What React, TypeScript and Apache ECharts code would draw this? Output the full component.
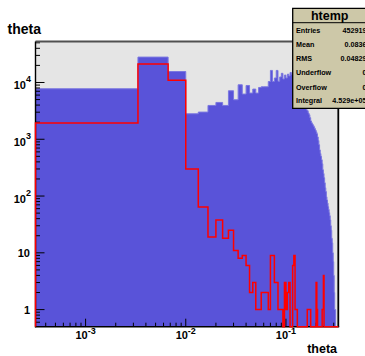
import React, { useEffect, useRef } from 'react';
import * as echarts from 'echarts';

// ---- data ----
const BIN_LOW = 0;
const BIN_HIGH = 1 / 3;
const blueCounts = [
  7750, 28000, 15600, 2810, 3010, 3940, 4450, 3940, 7140, 4960,
  9110, 6250, 8850, 6500, 7650, 6500, 8170, 8400, 8400, 8400,
  10400, 16300, 10400, 12000, 16300, 10500, 12500, 14500, 11500, 13500,
  12000, 14000, 13000, 15000, 14000, 14500, 12000, 13000, 11000, 10500,
  9000, 8500, 7000, 6000, 5200, 4500, 4000, 3540, 3300, 3180,
  2900, 2700, 2400, 2100, 1950, 1850, 1750, 1660, 1550, 1450,
  1350, 1250, 1100, 950, 800, 650, 560, 500, 436, 370,
  290, 250, 210, 171, 140, 120, 97, 85, 75, 65,
  58, 51, 45, 38, 30, 25, 18, 15, 10, 7,
  4, 2, 1, 1, 0, 0, 0, 0, 0, 0,
];
const redCounts = [
  1930, 21100, 11000, 300, 64, 19, 38, 18, 25, 11,
  8, 9, 6, 2, 3, 1, 1, 2, 2, 2,
  1, 9, 9, 3, 3, 1, 1, 1, 0, 3,
  1, 2, 3, 0, 0, 6, 9, 1, 1, 0,
  0, 0, 0, 0, 0, 0, 0, 0, 0, 1,
  1, 1, 1, 0, 0, 0, 0, 0, 0, 0,
  3, 1, 0, 0, 0, 0, 0, 0, 0, 1,
  1, 4, 0, 0, 0, 0, 0, 0, 0, 0,
  0, 0, 0, 0, 0, 0, 0, 0, 0, 0,
  0, 0, 0, 0, 0, 0, 0, 0, 0, 0,
];
const xMajorTicks = [0.001, 0.01, 0.1];
const xTickLabels = [['10', '-3'], ['10', '-2'], ['10', '-1']];
const yMajorTicks = [1, 10, 100, 1000, 10000];
const yTickLabels = [['1', ''], ['10', ''], ['10', '2'], ['10', '3'], ['10', '4']];
const statNames = ['Entries', 'Mean', 'RMS', 'Underflow', 'Overflow', 'Integral'];
const statValues = ['452919', '0.0836', '0.04829', '0', '0', '4.529e+05'];
const histName = 'htemp';
const titleText = 'theta';
const xTitle = 'theta';

// ---- axis ranges ----
const X_MIN = Math.pow(10, -3.5);
const X_MAX = 0.3333;
const Y_MIN = 0.5;
const Y_MAX = 52700;

const xMinorTicks: number[] = [];
[0.0001, 0.001, 0.01, 0.1].forEach((d) => {
  for (let m = 2; m <= 9; m++) {
    const v = d * m;
    if (v > X_MIN && v < X_MAX) xMinorTicks.push(v);
  }
});
const yMinorTicks: number[] = [];
[0.1, 1, 10, 100, 1000, 10000].forEach((d) => {
  for (let m = 2; m <= 9; m++) {
    const v = d * m;
    if (v > Y_MIN && v < Y_MAX) yMinorTicks.push(v);
  }
});

// ---- layout ----
const W = 365;
const H = 356;
const G_LEFT = 35.5;
const G_TOP = 41.5;
const G_RIGHT = 338.3;
const G_BOTTOM = 326.7;
const FONT_FAMILY = '"Liberation Sans", Arial, Helvetica, sans-serif';
const BASE_FONT = `bold 11px ${FONT_FAMILY}`;
const EXP_FONT = `bold 9px ${FONT_FAMILY}`;
const STAT_FONT = `bold 7.2px ${FONT_FAMILY}`;
const BLUE = '#5953d9';
const BLUE_EDGE = '#7b77e0';
const RED = '#ff0000';

let ctx: CanvasRenderingContext2D | null = null;
function textWidth(t: string, font: string): number {
  if (!ctx) ctx = document.createElement('canvas').getContext('2d');
  if (!ctx) return t.length * 6;
  ctx.font = font;
  return ctx.measureText(t).width;
}

function binEdge(i: number): number {
  return BIN_LOW + ((BIN_HIGH - BIN_LOW) * i) / blueCounts.length;
}

function stepPoints(counts: number[], api: any): number[][] {
  const pts: number[][] = [];
  const n = counts.length;
  pts.push(api.coord([Math.max(binEdge(0), X_MIN), Y_MIN]));
  for (let i = 0; i < n; i++) {
    const x0 = Math.max(binEdge(i), X_MIN);
    const x1 = binEdge(i + 1);
    const y = Math.max(counts[i], Y_MIN);
    pts.push(api.coord([x0, y]));
    pts.push(api.coord([x1, y]));
  }
  pts.push(api.coord([binEdge(n), Y_MIN]));
  return pts;
}

export default function App() {
  const ref = useRef<HTMLDivElement>(null);
  useEffect(() => {
    if (!ref.current) return;
    const chart = echarts.init(ref.current, undefined, { renderer: 'svg' });

    const statRowY = [30, 44.3, 58.3, 72.3, 87, 100.3];
    const statEls: any[] = [
      {
        type: 'rect',
        z: 100,
        shape: { x: 292.7, y: 8.3, width: 90, height: 100 },
        style: { fill: '#cdc8a8', stroke: '#000', lineWidth: 1.3 },
      },
      {
        type: 'line',
        z: 101,
        shape: { x1: 292.7, y1: 22.7, x2: 370, y2: 22.7 },
        style: { stroke: '#000', lineWidth: 1 },
      },
      {
        type: 'text',
        z: 101,
        x: 329.7,
        y: 15.5,
        style: { text: histName, font: `bold 12.5px ${FONT_FAMILY}`, fill: '#000', align: 'center', verticalAlign: 'middle' },
      },
    ];
    statNames.forEach((name, i) => {
      statEls.push({
        type: 'text',
        z: 101,
        x: 296,
        y: statRowY[i],
        style: { text: name, font: STAT_FONT, fill: '#000', align: 'left', verticalAlign: 'middle' },
      });
      statEls.push({
        type: 'text',
        z: 101,
        x: 366.5,
        y: statRowY[i],
        style: { text: statValues[i], font: STAT_FONT, fill: '#000', align: 'right', verticalAlign: 'middle' },
      });
    });

    const option: any = {
      animation: false,
      backgroundColor: '#ffffff',
      grid: {
        left: G_LEFT,
        top: G_TOP,
        right: W - G_RIGHT,
        bottom: H - G_BOTTOM,
        show: true,
        backgroundColor: '#e5e5e5',
        borderWidth: 0,
        containLabel: false,
      },
      xAxis: {
        type: 'log',
        logBase: 10,
        min: X_MIN,
        max: X_MAX,
        axisLine: { show: false },
        axisTick: { show: false },
        axisLabel: { show: false },
        splitLine: { show: false },
      },
      yAxis: {
        type: 'log',
        logBase: 10,
        min: Y_MIN,
        max: Y_MAX,
        axisLine: { show: false },
        axisTick: { show: false },
        axisLabel: { show: false },
        splitLine: { show: false },
      },
      series: [
        {
          type: 'custom',
          name: 'blue',
          z: 2,
          clip: true,
          data: [[0.01, 1]],
          renderItem: (params: any, api: any) => ({
            type: 'polygon',
            shape: { points: stepPoints(blueCounts, api) },
            style: { fill: BLUE, stroke: BLUE_EDGE, lineWidth: 1 },
          }),
        },
        {
          type: 'custom',
          name: 'red',
          z: 6,
          clip: false,
          data: [[0.01, 1]],
          renderItem: (params: any, api: any) => ({
            type: 'polyline',
            shape: { points: stepPoints(redCounts, api) },
            style: { fill: 'none', stroke: RED, lineWidth: 1.5 },
          }),
        },
        {
          type: 'custom',
          name: 'yticks',
          z: 4,
          data: yMajorTicks.map((v) => [X_MIN, v, 1]).concat(yMinorTicks.map((v) => [X_MIN, v, 0])),
          renderItem: (params: any, api: any) => {
            const p = api.coord([X_MIN, api.value(1)]);
            const len = api.value(2) ? 9 : 4.5;
            return {
              type: 'line',
              shape: { x1: p[0], y1: p[1], x2: p[0] + len, y2: p[1] },
              style: { stroke: '#000', lineWidth: 1 },
            };
          },
        },
        {
          type: 'custom',
          name: 'xticks',
          z: 4,
          data: xMajorTicks.map((v) => [v, Y_MIN, 1]).concat(xMinorTicks.map((v) => [v, Y_MIN, 0])),
          renderItem: (params: any, api: any) => {
            const p = api.coord([api.value(0), Y_MIN]);
            const len = api.value(2) ? 8 : 4;
            return {
              type: 'line',
              shape: { x1: p[0], y1: p[1], x2: p[0], y2: p[1] - len },
              style: { stroke: '#000', lineWidth: 1 },
            };
          },
        },
        {
          type: 'custom',
          name: 'xlabels',
          z: 4,
          data: xMajorTicks.map((v) => [v, Y_MIN]),
          renderItem: (params: any, api: any) => {
            const p = api.coord([api.value(0), Y_MIN]);
            const [base, exp] = xTickLabels[params.dataIndex];
            const wb = textWidth(base, BASE_FONT);
            const we = textWidth(exp, EXP_FONT);
            const x0 = p[0] - (wb + we) / 2;
            return {
              type: 'group',
              children: [
                { type: 'text', x: x0, y: p[1] + 8, style: { text: base, font: BASE_FONT, fill: '#000', align: 'left', verticalAlign: 'middle' } },
                { type: 'text', x: x0 + wb, y: p[1] + 3.8, style: { text: exp, font: EXP_FONT, fill: '#000', align: 'left', verticalAlign: 'middle' } },
              ],
            };
          },
        },
        {
          type: 'custom',
          name: 'ylabels',
          z: 4,
          data: yMajorTicks.map((v) => [X_MIN, v]),
          renderItem: (params: any, api: any) => {
            const p = api.coord([X_MIN, api.value(1)]);
            const [base, exp] = yTickLabels[params.dataIndex];
            if (!exp) {
              return { type: 'text', x: p[0] - 5.5, y: p[1], style: { text: base, font: BASE_FONT, fill: '#000', align: 'right', verticalAlign: 'middle' } };
            }
            const we = textWidth(exp, EXP_FONT);
            const right = p[0] - 4.5;
            return {
              type: 'group',
              children: [
                { type: 'text', x: right - we, y: p[1] + 3, style: { text: base, font: BASE_FONT, fill: '#000', align: 'right', verticalAlign: 'middle' } },
                { type: 'text', x: right - we, y: p[1] - 3.5, style: { text: exp, font: EXP_FONT, fill: '#000', align: 'left', verticalAlign: 'middle' } },
              ],
            };
          },
        },
      ],
      graphic: {
        elements: [
          { type: 'line', z: 5, shape: { x1: G_LEFT, y1: G_TOP, x2: G_RIGHT, y2: G_TOP }, style: { stroke: '#505050', lineWidth: 1.8 } },
          { type: 'line', z: 5, shape: { x1: G_RIGHT, y1: G_TOP, x2: G_RIGHT, y2: G_BOTTOM }, style: { stroke: '#000', lineWidth: 1.8 } },
          { type: 'line', z: 5, shape: { x1: G_LEFT, y1: G_TOP, x2: G_LEFT, y2: G_BOTTOM + 0.7 }, style: { stroke: '#000', lineWidth: 1.4 } },
          { type: 'line', z: 5, shape: { x1: G_LEFT, y1: G_BOTTOM, x2: G_RIGHT + 0.9, y2: G_BOTTOM }, style: { stroke: '#000', lineWidth: 1.4 } },
          { type: 'text', z: 5, x: 7.5, y: 28.6, style: { text: titleText, font: `bold 14px ${FONT_FAMILY}`, fill: '#000', align: 'left', verticalAlign: 'middle' } },
          { type: 'text', z: 5, x: 337, y: 349.3, style: { text: xTitle, font: `bold 12.5px ${FONT_FAMILY}`, fill: '#000', align: 'right', verticalAlign: 'middle' } },
          ...statEls,
        ],
      },
    };
    chart.setOption(option);
    return () => chart.dispose();
  }, []);
  return <div ref={ref} style={{ position: 'fixed', left: 0, top: 0, width: W, height: H }} />;
}
